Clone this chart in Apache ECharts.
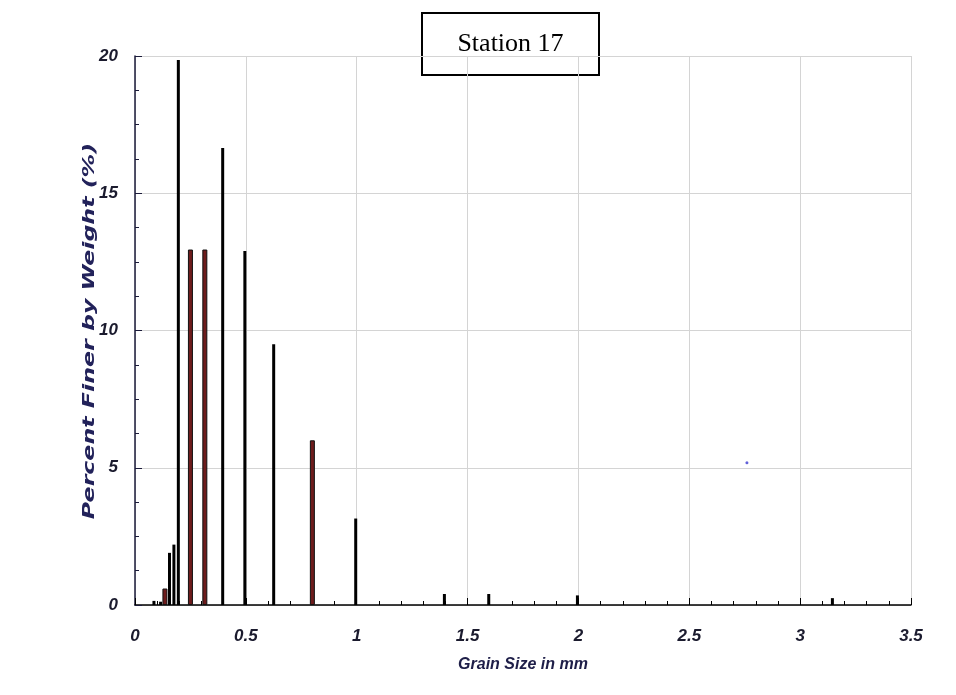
<!DOCTYPE html>
<html>
<head>
<meta charset="utf-8">
<script src="https://cdn.jsdelivr.net/npm/echarts@6/dist/echarts.min.js"></script>
<style>
  html, body { margin: 0; padding: 0; background: #fff; }
  #chart { width: 956px; height: 695px; }
</style>
</head>
<body>
<div id="chart"></div>
<script>
// grain sizes (mm) and percent retained, black bars
let blackSizes = [0.09, 0.12, 0.16, 0.18, 0.2, 0.4, 0.5, 0.63, 1.0, 1.4, 1.6, 2.0, 3.15];
let blackValues = [0.15, 0.12, 1.9, 2.2, 19.85, 16.65, 12.9, 9.5, 3.15, 0.4, 0.4, 0.35, 0.25];
// red bars
let redSizes = [0.135, 0.25, 0.315, 0.8];
let redValues = [0.6, 12.95, 12.95, 6.0];
// stray blue point
let bluePoint = [2.76, 5.18];
let xTicks = [0, 0.5, 1, 1.5, 2, 2.5, 3, 3.5];
let yTicks = [0, 5, 10, 15, 20];

let pair = (xs, ys) => xs.map((x, i) => [x, ys[i]]);

let myChart = echarts.init(document.getElementById("chart"));
let labelFont = {
  color: "#1b1b2e",
  fontFamily: "Liberation Sans Narrow, Liberation Sans, sans-serif",
  fontWeight: "bold",
  fontStyle: "italic",
  fontSize: 17,
};
let option = {
  animation: false,
  grid: {
    left: 135,
    right: 45,
    top: 56,
    bottom: 90,
  },
  graphic: [
    {
      type: "group",
      left: 421,
      top: 12,
      children: [
        {
          type: "rect",
          shape: { x: 0, y: 0, width: 177, height: 62 },
          style: { fill: "#fff", stroke: "#000", lineWidth: 2 },
        },
        {
          type: "text",
          x: 88.5,
          y: 31,
          style: {
            text: "Station 17",
            fill: "#000",
            font: "26px 'Liberation Serif', 'Times New Roman', serif",
            align: "center",
            verticalAlign: "middle",
          },
        },
      ],
    },
    {
      // y axis title, stretched along its length like the source image
      type: "text",
      x: 90,
      y: 331,
      rotation: Math.PI / 2,
      scaleX: 1.48,
      style: {
        text: "Percent Finer by Weight (%)",
        fill: "#22225a",
        font: "italic bold 16px 'DejaVu Sans', sans-serif",
        align: "center",
        verticalAlign: "middle",
      },
    },
  ],
  xAxis: {
    type: "value",
    min: xTicks[0],
    max: xTicks[xTicks.length - 1],
    interval: 0.5,
    name: "Grain Size in mm",
    nameLocation: "middle",
    nameGap: 52,
    nameTextStyle: Object.assign({}, labelFont, { color: "#1e1e48", fontSize: 16 }),
    axisLine: { lineStyle: { color: "#000", width: 1.5 } },
    axisTick: { inside: true, length: 7, lineStyle: { color: "#000" } },
    minorTick: { show: true, splitNumber: 5, length: 4, lineStyle: { color: "#000" } },
    axisLabel: Object.assign({}, labelFont, { margin: 23 }),
    splitLine: { show: true, lineStyle: { color: "#d4d4d4", width: 1 } },
  },
  yAxis: {
    type: "value",
    min: yTicks[0],
    max: yTicks[yTicks.length - 1],
    interval: 5,
    axisLine: { show: true, lineStyle: { color: "#1b1b3a", width: 1.5 } },
    axisTick: { show: true, inside: true, length: 7, lineStyle: { color: "#1b1b3a" } },
    minorTick: { show: true, splitNumber: 4, length: 4, lineStyle: { color: "#1b1b3a" } },
    axisLabel: Object.assign({}, labelFont, { margin: 17 }),
    splitLine: { show: true, lineStyle: { color: "#d4d4d4", width: 1 } },
  },
  series: [
    {
      name: "black",
      type: "bar",
      barWidth: 3,
      itemStyle: { color: "#000" },
      data: pair(blackSizes, blackValues),
    },
    {
      name: "red",
      type: "bar",
      barWidth: 5,
      barGap: "-100%",
      itemStyle: { color: "#6e1c1c", borderColor: "#111", borderWidth: 1 },
      data: pair(redSizes, redValues),
    },
    {
      name: "point",
      type: "scatter",
      symbolSize: 3,
      itemStyle: { color: "#3a3ad0" },
      data: [bluePoint],
    },
  ],
};
myChart.setOption(option);
</script>
</body>
</html>
